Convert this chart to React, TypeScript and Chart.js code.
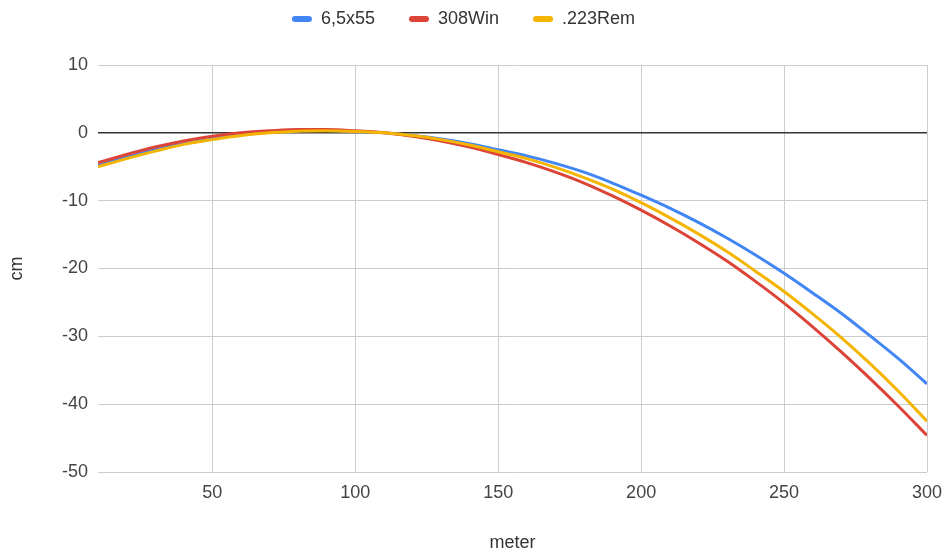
import React, { useEffect, useRef } from "react";
import { Chart, registerables } from "chart.js";

Chart.register(...registerables);

const distances = [10, 20, 30, 40, 50, 60, 70, 80, 90, 100, 110, 120, 130, 140, 150, 160, 170, 180, 190, 200, 210, 220, 230, 240, 250, 260, 270, 280, 290, 300];
const drop65x55 = [-4.8, -3.6, -2.5, -1.6, -0.9, -0.3, 0.1, 0.3, 0.35, 0.2, 0.0, -0.4, -0.9, -1.6, -2.5, -3.4, -4.5, -5.8, -7.4, -9.2, -11.1, -13.2, -15.5, -18.0, -20.7, -23.6, -26.6, -29.9, -33.3, -37.0];
const drop308Win = [-4.4, -3.2, -2.1, -1.2, -0.5, 0.0, 0.3, 0.5, 0.5, 0.3, 0.0, -0.5, -1.2, -2.1, -3.2, -4.4, -5.8, -7.4, -9.3, -11.4, -13.7, -16.2, -18.9, -21.9, -25.1, -28.6, -32.3, -36.2, -40.3, -44.6];
const drop223Rem = [-5.0, -3.8, -2.7, -1.7, -1.0, -0.4, 0.0, 0.25, 0.3, 0.2, 0.0, -0.4, -1.0, -1.8, -2.8, -3.8, -5.1, -6.6, -8.3, -10.3, -12.5, -14.9, -17.5, -20.4, -23.4, -26.7, -30.2, -34.0, -38.1, -42.5];
const seriesNames = ["6,5x55", "308Win", ".223Rem"];
const xTicks = [50, 100, 150, 200, 250, 300];

const FONT = "'Liberation Sans', Arial, sans-serif";
const TOP_PAD = -24;
const CHART_TOP = 65;

const legendSpace = {
  id: "legendSpace",
  beforeLayout(chart: any) {
    const lg: any = chart.legend;
    if (lg && !lg._patched) {
      const f = lg.fit.bind(lg);
      lg.fit = function () {
        f();
        this.height = CHART_TOP - TOP_PAD;
      };
      lg._patched = true;
    }
  },
};

export default function App() {
  const ref = useRef<HTMLCanvasElement>(null);
  useEffect(() => {
    if (!ref.current) return;
    const pts = (arr: number[]) => distances.map((d, i) => ({ x: d, y: arr[i] }));
    const chart = new Chart(ref.current, {
      type: "line",
      data: {
        datasets: [
          { label: seriesNames[0], data: pts(drop65x55), borderColor: "#4285F4", backgroundColor: "#4285F4", order: 2 },
          { label: seriesNames[1], data: pts(drop308Win), borderColor: "#DB4437", backgroundColor: "#DB4437", order: 1 },
          { label: seriesNames[2], data: pts(drop223Rem), borderColor: "#F4B400", backgroundColor: "#F4B400", order: 0 },
        ].map((d) => ({ ...d, borderWidth: 3, pointRadius: 0, cubicInterpolationMode: "monotone" as const, fill: false })),
      },
      plugins: [legendSpace],
      options: {
        animation: false,
        responsive: false,
        maintainAspectRatio: false,
        layout: { padding: { top: TOP_PAD, right: 17, left: 0, bottom: 0 } },
        plugins: {
          tooltip: { enabled: false },
          legend: {
            position: "top",
            labels: {
              sort: (a: any, b: any) => a.datasetIndex - b.datasetIndex,
              generateLabels: (c: any) =>
                (Chart.defaults.plugins.legend.labels as any).generateLabels(c).map((l: any) => ({ ...l, lineWidth: 0, borderRadius: 3 })),
              useBorderRadius: true,
              boxWidth: 20,
              boxHeight: 6,
              padding: 34,
              color: "#333",
              font: { family: FONT, size: 18 },
            },
          },
        },
        scales: {
          x: {
            type: "linear",
            min: 10,
            max: 300,
            afterBuildTicks: (s: any) => {
              s.ticks = xTicks.map((v) => ({ value: v }));
            },
            afterFit: (s: any) => {
              s.height = 82;
              s.paddingRight = 0;
              s.paddingLeft = 0;
            },
            border: { display: false },
            grid: { color: "#cccccc", lineWidth: 1, drawTicks: false },
            ticks: { color: "#444", font: { family: FONT, size: 18 }, padding: 10, maxRotation: 0 },
            title: { display: true, text: "meter", color: "#333", font: { family: FONT, size: 18 }, padding: { top: 4, bottom: 0 } },
          },
          y: {
            min: -50,
            max: 10,
            afterFit: (s: any) => {
              s.width = 98;
            },
            border: { display: false },
            grid: {
              color: (c: any) => (c.tick && c.tick.value === 0 ? "#333333" : "#cccccc"),
              lineWidth: (c: any) => (c.tick && c.tick.value === 0 ? 1.5 : 1),
              drawTicks: false,
            },
            ticks: { stepSize: 10, color: "#444", font: { family: FONT, size: 18 }, padding: 10 },
            title: { display: true, text: "cm", color: "#333", font: { family: FONT, size: 18 }, padding: { top: 6, bottom: 0 } },
          },
        },
      },
    });
    return () => chart.destroy();
  }, []);
  return (
    <div style={{ position: "fixed", left: 0, top: 0, width: 944, height: 554, background: "#fff" }}>
      <canvas ref={ref} width={944} height={554} style={{ width: 944, height: 554 }} />
    </div>
  );
}
